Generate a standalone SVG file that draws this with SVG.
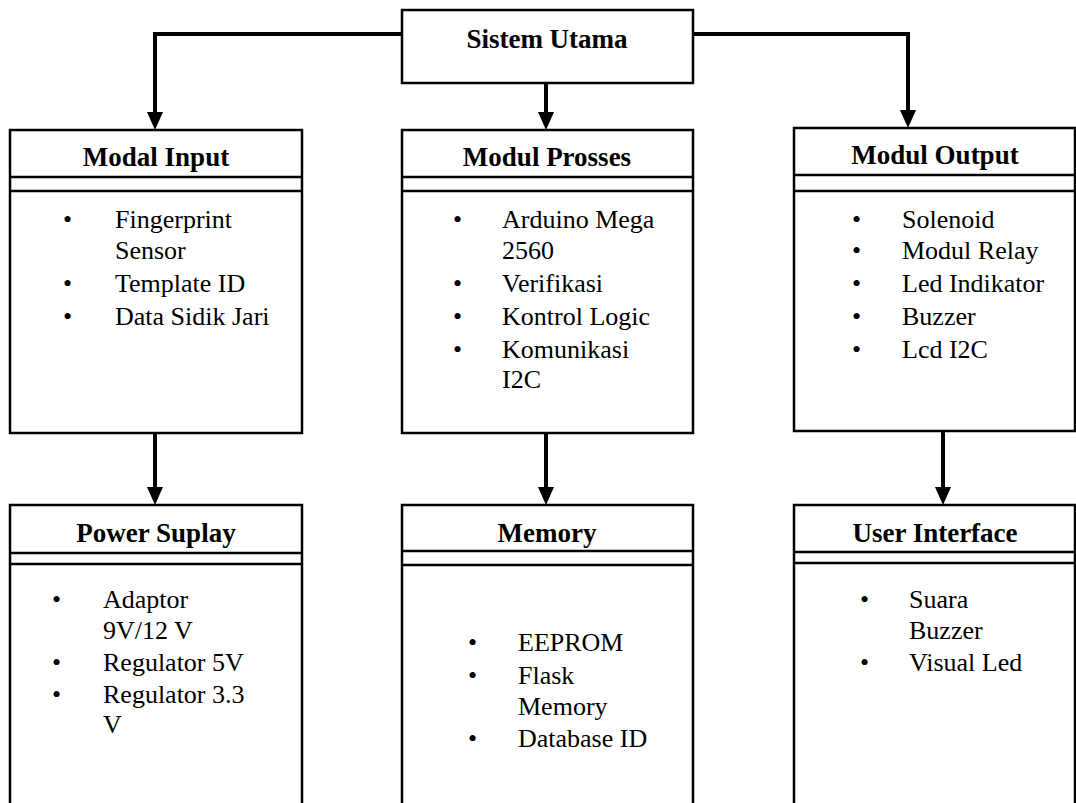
<svg xmlns="http://www.w3.org/2000/svg" width="1076" height="803" viewBox="0 0 1076 803">
<style>
.box{fill:#fff;stroke:#000;stroke-width:2.5}
.sep{stroke:#000;stroke-width:2.5}
.hd{font-family:"Liberation Serif","Times New Roman",serif;font-weight:bold;font-size:27px;text-anchor:middle;fill:#000}
.tx{font-family:"Liberation Serif","Times New Roman",serif;font-size:26px;fill:#000}
.con{fill:none;stroke:#000;stroke-width:4}
</style>
<rect width="1076" height="803" fill="#fff"/>
<g id="connectors">
<path class="con" d="M402,34 H155 V112"/>
<path class="con" d="M693,34 H908 V110"/>
<path class="con" d="M546,83 V112"/>
<path class="con" d="M155,433 V487"/>
<path class="con" d="M546,433 V487"/>
<path class="con" d="M943,431 V487"/>
<path d="M147,112 L163,112 L155,130 Z"/>
<path d="M900,110 L916,110 L908,128 Z"/>
<path d="M538,112 L554,112 L546,130 Z"/>
<path d="M147,487 L163,487 L155,505 Z"/>
<path d="M538,487 L554,487 L546,505 Z"/>
<path d="M935,487 L951,487 L943,505 Z"/>
</g>
<g id="sistem-utama">
<rect class="box" x="402" y="10" width="291" height="73"/>
<text class="hd" x="547" y="48">Sistem Utama</text>
</g>
<g id="modal-input">
<rect class="box" x="10" y="130" width="292" height="303"/>
<line class="sep" x1="10" y1="177" x2="302" y2="177"/>
<line class="sep" x1="10" y1="191" x2="302" y2="191"/>
<text class="hd" x="156" y="166">Modal Input</text>
<text class="tx" x="63" y="228">•</text><text class="tx" x="115" y="228">Fingerprint</text>
<text class="tx" x="115" y="259">Sensor</text>
<text class="tx" x="63" y="292">•</text><text class="tx" x="115" y="292">Template ID</text>
<text class="tx" x="63" y="325">•</text><text class="tx" x="115" y="325">Data Sidik Jari</text>
</g>
<g id="modul-prosses">
<rect class="box" x="402" y="130" width="291" height="303"/>
<line class="sep" x1="402" y1="177" x2="693" y2="177"/>
<line class="sep" x1="402" y1="191" x2="693" y2="191"/>
<text class="hd" x="547" y="166">Modul Prosses</text>
<text class="tx" x="453" y="228">•</text><text class="tx" x="502" y="228">Arduino Mega</text>
<text class="tx" x="502" y="259">2560</text>
<text class="tx" x="453" y="292">•</text><text class="tx" x="502" y="292">Verifikasi</text>
<text class="tx" x="453" y="325">•</text><text class="tx" x="502" y="325">Kontrol Logic</text>
<text class="tx" x="453" y="358">•</text><text class="tx" x="502" y="358">Komunikasi</text>
<text class="tx" x="502" y="388">I2C</text>
</g>
<g id="modul-output">
<rect class="box" x="794" y="128" width="281" height="303"/>
<line class="sep" x1="794" y1="175" x2="1075" y2="175"/>
<line class="sep" x1="794" y1="191" x2="1075" y2="191"/>
<text class="hd" x="935" y="164">Modul Output</text>
<text class="tx" x="852" y="228">•</text><text class="tx" x="902" y="228">Solenoid</text>
<text class="tx" x="852" y="259">•</text><text class="tx" x="902" y="259">Modul Relay</text>
<text class="tx" x="852" y="292">•</text><text class="tx" x="902" y="292">Led Indikator</text>
<text class="tx" x="852" y="325">•</text><text class="tx" x="902" y="325">Buzzer</text>
<text class="tx" x="852" y="358">•</text><text class="tx" x="902" y="358">Lcd I2C</text>
</g>
<g id="power-suplay">
<rect class="box" x="10" y="505" width="292" height="310"/>
<line class="sep" x1="10" y1="553" x2="302" y2="553"/>
<line class="sep" x1="10" y1="564" x2="302" y2="564"/>
<text class="hd" x="156" y="542">Power Suplay</text>
<text class="tx" x="52" y="608">•</text><text class="tx" x="103" y="608">Adaptor</text>
<text class="tx" x="103" y="639">9V/12 V</text>
<text class="tx" x="52" y="671">•</text><text class="tx" x="103" y="671">Regulator 5V</text>
<text class="tx" x="52" y="703">•</text><text class="tx" x="103" y="703">Regulator 3.3</text>
<text class="tx" x="103" y="733">V</text>
</g>
<g id="memory">
<rect class="box" x="402" y="505" width="291" height="310"/>
<line class="sep" x1="402" y1="551" x2="693" y2="551"/>
<line class="sep" x1="402" y1="565" x2="693" y2="565"/>
<text class="hd" x="547" y="542">Memory</text>
<text class="tx" x="468" y="651">•</text><text class="tx" x="518" y="651">EEPROM</text>
<text class="tx" x="468" y="684">•</text><text class="tx" x="518" y="684">Flask</text>
<text class="tx" x="518" y="715">Memory</text>
<text class="tx" x="468" y="747">•</text><text class="tx" x="518" y="747">Database ID</text>
</g>
<g id="user-interface">
<rect class="box" x="794" y="505" width="281" height="310"/>
<line class="sep" x1="794" y1="552" x2="1075" y2="552"/>
<line class="sep" x1="794" y1="563" x2="1075" y2="563"/>
<text class="hd" x="935" y="542">User Interface</text>
<text class="tx" x="860" y="608">•</text><text class="tx" x="909" y="608">Suara</text>
<text class="tx" x="909" y="639">Buzzer</text>
<text class="tx" x="860" y="671">•</text><text class="tx" x="909" y="671">Visual Led</text>
</g>
</svg>
